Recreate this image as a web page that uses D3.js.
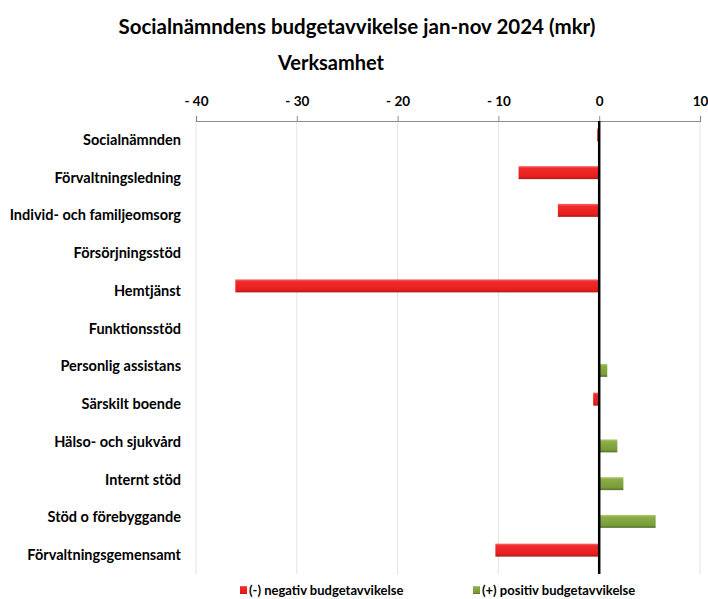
<!DOCTYPE html>
<html>
<head>
<meta charset="utf-8">
<script src="https://cdn.jsdelivr.net/npm/d3@7"></script>
<style>
  body { margin: 0; background: #fff; }
  svg text { font-family: Lato, "Open Sans", sans-serif; font-weight: bold; fill: #000; }
</style>
</head>
<body>
<svg id="chart" width="708" height="599"></svg>
<script>
// --- data ---
const categories = [
    "Socialnämnden",
    "Förvaltningsledning ",
    "Individ- och familjeomsorg",
    "Försörjningsstöd",
    "Hemtjänst",
    "Funktionsstöd",
    "Personlig assistans",
    "Särskilt boende",
    "Hälso- och sjukvård",
    "Internt stöd",
    "Stöd o förebyggande",
    "Förvaltningsgemensamt"
];
const negativ = [-0.2, -8.0, -4.1, -0.1, -36.1, -0.1, 0, -0.6, 0, 0, 0, -10.3];
const positiv = [0, 0, 0, 0, 0, 0, 0.8, 0, 1.8, 2.4, 5.6, 0];
const ticks = [-40, -30, -20, -10, 0, 10];
const tickLabels = ["- 40", "- 30", "- 20", "- 10", "0", "10"];
const seriesNames = ["(-) negativ budgetavvikelse", "(+) positiv budgetavvikelse"];

const svg = d3.select("#chart"),
    margin = { top: 121, left: 196, right: 8, bottom: 25 },
    width = 700 - margin.left,
    height = 574 - margin.top;

// bevel gradients
const defs = svg.append("defs");
function grad(id, stops) {
    const g = defs.append("linearGradient").attr("id", id)
        .attr("x1", 0).attr("y1", 0).attr("x2", 0).attr("y2", 1);
    stops.forEach(s => g.append("stop").attr("offset", s[0]).attr("stop-color", s[1]));
}
grad("redGrad", [[0, "#f76a6a"], [0.18, "#f02a2a"], [0.8, "#e81e1e"], [1, "#b01818"]]);
grad("greenGrad", [[0, "#b3cc7a"], [0.18, "#8aad45"], [0.8, "#7a9c38"], [1, "#55702a"]]);

const g = svg.append("g").attr("transform", `translate(${margin.left},${margin.top})`);

const x = d3.scaleLinear().domain([-40, 10]).range([0, width]);
const y = d3.scaleBand().domain(categories).range([0, height]);

// titles
svg.append("text").attr("x", 357).attr("y", 34).attr("text-anchor", "middle")
    .style("font-size", "20.5px").text("Socialnämndens budgetavvikelse jan-nov 2024 (mkr)");
svg.append("text").attr("x", 331).attr("y", 70).attr("text-anchor", "middle")
    .style("font-size", "20px").text("Verksamhet");

// gridlines
g.selectAll(".grid").data(ticks).enter().append("line")
    .attr("x1", d => x(d)).attr("x2", d => x(d))
    .attr("y1", 0).attr("y2", height)
    .attr("stroke", "#e3e3e3").attr("stroke-width", 1);

// top axis
const axis = g.append("g")
    .call(d3.axisTop(x).tickValues(ticks).tickFormat((d, i) => tickLabels[i]).tickSize(5).tickPadding(10));
axis.select(".domain").attr("stroke", "#8c8c8c").attr("stroke-width", 1.2);
axis.selectAll(".tick line").attr("stroke", "#8c8c8c");
axis.selectAll(".tick text").style("font-size", "13.5px").style("font-family", "Lato, sans-serif");

// category labels
g.selectAll(".cat").data(categories).enter().append("text")
    .attr("x", -15).attr("y", d => y(d) + y.bandwidth() / 2)
    .attr("dy", "0.35em").attr("text-anchor", "end")
    .style("font-size", "14.5px").text(d => d);

const barH = 13;
function drawBars(vals, off, fill) {
    g.selectAll(null).data(vals.map((v, i) => ({ c: categories[i], v }))).enter()
        .append("rect")
        .filter(d => d.v !== 0)
        .attr("x", d => x(Math.min(0, d.v)))
        .attr("width", d => Math.abs(x(d.v) - x(0)))
        .attr("y", d => y(d.c) + y.bandwidth() / 2 + off - barH / 2)
        .attr("height", barH)
        .attr("fill", fill);
}
drawBars(negativ, -5, "url(#redGrad)");
drawBars(positiv, 4, "url(#greenGrad)");

// zero line
g.append("line").attr("x1", x(0)).attr("x2", x(0)).attr("y1", 0).attr("y2", height)
    .attr("stroke", "#000").attr("stroke-width", 2.5);

// legend
const legend = svg.append("g");
const legX = [240, 473];
const legFill = ["url(#redGrad)", "url(#greenGrad)"];
seriesNames.forEach((name, i) => {
    legend.append("rect").attr("x", legX[i]).attr("y", 586).attr("width", 7).attr("height", 8)
        .attr("fill", legFill[i]);
    legend.append("text").attr("x", legX[i] + 9).attr("y", 595)
        .style("font-size", "13px").text(name);
});
</script>
</body>
</html>
